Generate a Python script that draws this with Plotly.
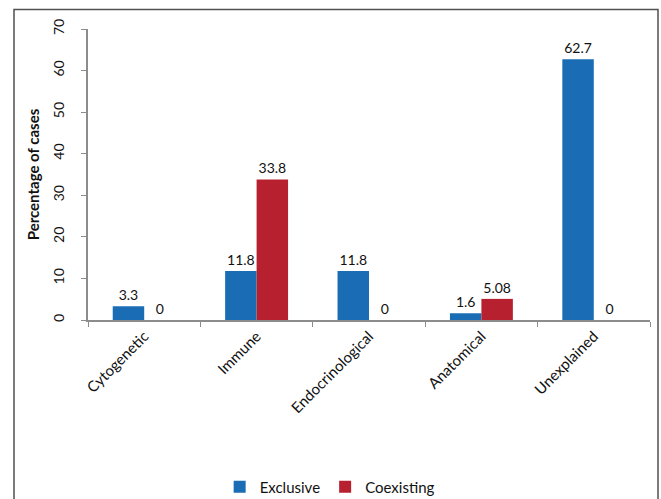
import plotly.graph_objects as go

categories = ["Cytogenetic", "Immune", "Endocrinological", "Anatomical", "Unexplained"]
exclusive = [3.3, 11.8, 11.8, 1.6, 62.7]
coexisting = [0, 33.8, 0, 5.08, 0]
exclusive_labels = ["3.3", "11.8", "11.8", "1.6", "62.7"]
coexisting_labels = ["0", "33.8", "0", "5.08", "0"]
y_ticks = [0, 10, 20, 30, 40, 50, 60, 70]

BLUE = "#1a6cb5"
RED = "#b7202f"
FONT = "Lato, 'Open Sans', sans-serif"

fig = go.Figure()
fig.add_trace(go.Bar(
    name="Exclusive", x=categories, y=exclusive,
    text=exclusive_labels, textposition="outside", cliponaxis=False,
    marker=dict(color=BLUE, line=dict(width=0)),
    textfont=dict(size=14, color="#111"),
))
fig.add_trace(go.Bar(
    name="Coexisting", x=categories, y=coexisting,
    text=coexisting_labels, textposition="outside", cliponaxis=False,
    marker=dict(color=RED, line=dict(width=0)),
    textfont=dict(size=14, color="#111"),
))

W, H = 661, 499
L, R, T, B = 88, 11, 29, 179
pw = W - L - R
ph = H - T - B

def px_x(x):
    return (x - L) / pw

def px_y(y):
    return (H - B - y) / ph

fig.update_layout(
    width=W, height=H,
    margin=dict(l=L, r=R, t=T, b=B, autoexpand=False),
    paper_bgcolor="white", plot_bgcolor="white",
    barmode="group", bargap=0.44, bargroupgap=0,
    font=dict(family=FONT, size=14, color="#111"),
    showlegend=True,
    legend=dict(orientation="h", x=0.43, xanchor="center", y=px_y(487), yanchor="middle",
                font=dict(size=15, family=FONT), itemwidth=30, traceorder="normal"),
    xaxis=dict(
        automargin=False,
        showline=True, linecolor="#8c8c8c", linewidth=1.5,
        ticks="outside", tickson="boundaries", ticklen=5, tickcolor="#8c8c8c",
        tickangle=-45, tickfont=dict(size=15, family=FONT),
        showgrid=False,
    ),
    yaxis=dict(
        automargin=False,
        range=[0, 70], tickvals=y_ticks, showline=True, linecolor="#8c8c8c", linewidth=1.5,
        ticks="outside", ticklen=5, tickcolor="#8c8c8c", ticklabelstandoff=12,
        tickangle=-90, tickfont=dict(size=14, family=FONT),
        showgrid=False, zeroline=False,
        title=dict(text="<b>Percentage of cases</b>", font=dict(size=15, family=FONT), standoff=6),
    ),
    shapes=[dict(
        type="rect", xref="paper", yref="paper",
        x0=px_x(14), x1=px_x(658), y0=px_y(9.5), y1=px_y(520),
        line=dict(color="#505050", width=1.5), fillcolor="rgba(0,0,0,0)", layer="above",
    )],
)

fig.write_html("out.html")
